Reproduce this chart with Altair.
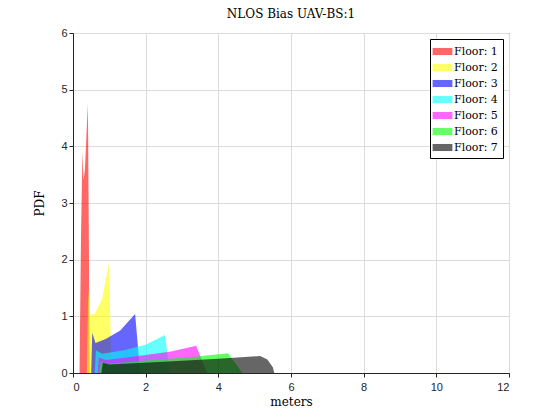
import pandas as pd
import altair as alt

floors = ["Floor: 1", "Floor: 2", "Floor: 3", "Floor: 4", "Floor: 5", "Floor: 6", "Floor: 7"]
colors = ["#ff0000", "#ffff00", "#0000ff", "#00ffff", "#ff00ff", "#00ff00", "#000000"]

xs = [
    [0.18, 0.22, 0.26, 0.29, 0.33, 0.37, 0.41, 0.44, 0.46],
    [0.38, 0.42, 0.47, 0.6, 0.8, 0.99, 1.06],
    [0.5, 0.53, 0.62, 0.9, 1.3, 1.71, 1.85],
    [0.6, 0.63, 0.8, 1.4, 2.0, 2.53, 2.67],
    [0.68, 0.71, 0.9, 1.8, 2.7, 3.39, 3.69],
    [0.73, 0.76, 0.95, 2.0, 3.2, 4.27, 4.66],
    [0.78, 0.82, 1.0, 2.5, 4.0, 5.15, 5.35, 5.5, 5.54],
]
ys = [
    [0.0, 2.4, 3.9, 3.4, 3.6, 4.2, 4.75, 2.0, 0.0],
    [0.0, 1.5, 1.02, 1.05, 1.3, 1.94, 0.0],
    [0.0, 0.71, 0.53, 0.6, 0.75, 1.04, 0.0],
    [0.0, 0.4, 0.34, 0.4, 0.5, 0.67, 0.0],
    [0.0, 0.28, 0.23, 0.3, 0.38, 0.48, 0.0],
    [0.0, 0.2, 0.16, 0.22, 0.28, 0.35, 0.0],
    [0.0, 0.18, 0.15, 0.2, 0.25, 0.30, 0.24, 0.1, 0.0],
]

rows = []
for i, f in enumerate(floors):
    for x, y in zip(xs[i], ys[i]):
        rows.append({"floor": f, "x": x, "y": y})
df = pd.DataFrame(rows)

chart = alt.Chart(df).mark_area(opacity=0.6, interpolate="linear").encode(
    x=alt.X("x:Q", title="meters", scale=alt.Scale(domain=[0, 12], nice=False),
            axis=alt.Axis(values=list(range(0, 13, 2)), grid=True)),
    y=alt.Y("y:Q", title="PDF", stack=None, scale=alt.Scale(domain=[0, 6], nice=False),
            axis=alt.Axis(values=list(range(0, 7)), grid=True)),
    color=alt.Color("floor:N", scale=alt.Scale(domain=floors, range=colors),
                    legend=alt.Legend(title=None, orient="top-right", offset=6,
                                      symbolType="M-1.4,-0.5H1.4V0.5H-1.4Z",
                                      symbolSize=200, symbolOpacity=0.6,
                                      symbolStrokeWidth=0,
                                      labelFont="DejaVu Serif", labelFontSize=11,
                                      strokeColor="black", fillColor="white",
                                      padding=5, rowPadding=3)),
).properties(
    width=436, height=340,
    title=alt.TitleParams("NLOS Bias UAV-BS:1", font="DejaVu Serif", fontSize=12,
                          fontWeight="normal", offset=6),
    autosize=alt.AutoSizeParams(type="none"),
    padding={"left": 65, "top": 25, "right": 10, "bottom": 45},
).configure_axis(
    labelFont="Liberation Sans", labelFontSize=11, labelColor="#262626",
    titleFont="DejaVu Serif", titleFontSize=12, titleFontWeight="normal",
    gridColor="#dcdcdc", domainColor="#262626", tickColor="#262626", tickSize=4,
).configure_axisY(titlePadding=14).configure_axisX(titlePadding=4, labelPadding=4).configure_view(
    stroke="#262626", strokeWidth=1
)

chart.save("out.html", embed_options={"renderer": "svg", "actions": False})
